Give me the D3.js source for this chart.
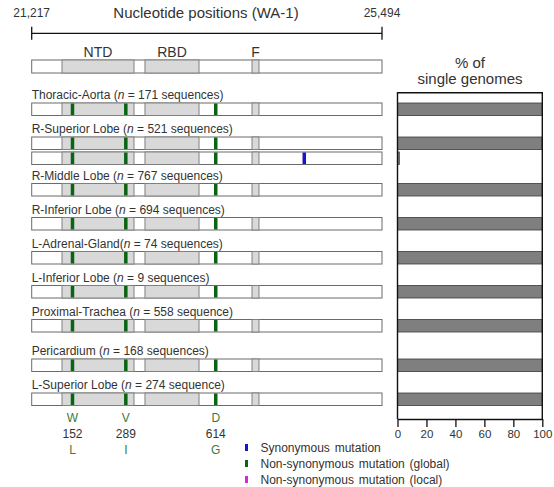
<!DOCTYPE html>
<html>
<head>
<meta charset="utf-8">
<script src="https://cdn.jsdelivr.net/npm/d3@7"></script>
<style>
  body { margin: 0; background: #fff; }
  text { font-family: "Liberation Sans", Arial, sans-serif; fill: #333; }
</style>
</head>
<body>
<svg id="chart" width="554" height="487"></svg>
<script>
// ---- data ----
const genomeStart = 21217, genomeEnd = 25494;

const domainNames = ["NTD", "RBD", "F"];
const domainStart = [21587, 22600, 23907];
const domainEnd = [22466, 23260, 23992];

const tissues = ["Thoracic-Aorta", "R-Superior Lobe", "R-Middle Lobe", "R-Inferior Lobe",
  "L-Adrenal-Gland", "L-Inferior Lobe", "Proximal-Trachea", "Pericardium", "L-Superior Lobe"];
const seqCounts = [171, 521, 767, 694, 74, 9, 558, 168, 274];
const seqNoun = ["sequences", "sequences", "sequences", "sequences", "sequences",
  "sequences", "sequence", "sequences", "sequence"];
// % of single genomes for every genome type in a tissue
const genomePct = [[100], [99.8, 0.2], [100], [100], [100], [100], [100], [100], [100]];

// non-synonymous (global) sites, drawn in every genome
const globalSites = [21715, 22366, 23464];
const globalAA = [152, 289, 614];
const globalRef = ["W", "V", "D"];
const globalAlt = ["L", "I", "G"];

// synonymous site: tissue index, genome index, position
const synTissue = [1];
const synGenome = [1];
const synSite = [24545];

const legendLabels = ["Synonymous mutation", "Non-synonymous mutation (global)", "Non-synonymous mutation (local)"];
const legendColors = ["#1515d0", "#0b6414", "#e020e0"];

const pctTicks = [0, 20, 40, 60, 80, 100];

// ---- layout ----
var svg = d3.select("#chart");
var barH = 12.5;

var x = d3.scaleLinear().domain([genomeStart, genomeEnd]).range([31.7, 382]);
var xp = d3.scaleLinear().domain([0, 100]).range([397.5, 542.3]);

// top axis
var axisY = 33.3;
svg.append("line").attr("x1", x(genomeStart)).attr("x2", x(genomeEnd))
  .attr("y1", axisY).attr("y2", axisY).attr("stroke", "#111").attr("stroke-width", 1.3);
[genomeStart, genomeEnd].forEach(function (v) {
  svg.append("line").attr("x1", x(v)).attr("x2", x(v)).attr("y1", axisY - 6.5).attr("y2", axisY + 6.5)
    .attr("stroke", "#111").attr("stroke-width", 1.3);
  svg.append("text").attr("x", x(v)).attr("y", 17).attr("text-anchor", "middle")
    .style("font-size", "12px").text(d3.format(",")(v));
});
svg.append("text").attr("x", 206).attr("y", 18).attr("text-anchor", "middle")
  .style("font-size", "15px").text("Nucleotide positions (WA-1)");

// domain labels
svg.selectAll(".dom-label").data(domainNames).enter().append("text")
  .attr("x", (d, i) => (x(domainStart[i]) + x(domainEnd[i])) / 2)
  .attr("y", 56.5).attr("text-anchor", "middle")
  .style("font-size", "14px").text(d => d);

function drawSpike(y0, h) {
  var g = svg.append("g");
  g.append("rect").attr("x", x(genomeStart)).attr("y", y0)
    .attr("width", x(genomeEnd) - x(genomeStart)).attr("height", h)
    .attr("fill", "#fff").attr("stroke", "#6b6b6b").attr("stroke-width", 1);
  domainNames.forEach(function (d, i) {
    g.append("rect").attr("x", x(domainStart[i])).attr("y", y0)
      .attr("width", x(domainEnd[i]) - x(domainStart[i])).attr("height", h)
      .attr("fill", "#d9d9d9").attr("stroke", "#808080").attr("stroke-width", 1);
  });
  return g;
}

// reference spike
drawSpike(60, 13);

// rows
var rows = [];
var rowTop = 103;
tissues.forEach(function (t, i) {
  if (t === "Pericardium") rowTop += 5.5;
  var lab = svg.append("text").attr("x", 31.7).attr("y", rowTop - 4).style("font-size", "12px")
    .attr("xml:space", "preserve");
  lab.append("tspan").text(t + (t === "L-Adrenal-Gland" ? "(" : " ("));
  lab.append("tspan").style("font-style", "italic").text("n");
  lab.append("tspan").text(" = " + seqCounts[i] + " " + seqNoun[i] + ")");
  genomePct[i].forEach(function (p, k) {
    rows.push({ tissue: i, genome: k, top: rowTop + k * 15, pct: p });
  });
  rowTop += 34 + (genomePct[i].length - 1) * 12.5;
});

rows.forEach(function (r) {
  var g = drawSpike(r.top, barH);
  globalSites.forEach(function (s) {
    g.append("rect").attr("x", x(s) - 1.75).attr("y", r.top + 0.5).attr("width", 3.5).attr("height", barH - 1)
      .attr("fill", legendColors[1]);
  });
  synSite.forEach(function (s, j) {
    if (synTissue[j] === r.tissue && synGenome[j] === r.genome) {
      g.append("rect").attr("x", x(s) - 1.75).attr("y", r.top + 0.5).attr("width", 3.5).attr("height", barH - 1)
        .attr("fill", legendColors[0]);
    }
  });
});

// amino acid labels
globalSites.forEach(function (s, i) {
  svg.append("text").attr("x", x(s)).attr("y", 422).attr("text-anchor", "middle")
    .style("font-size", "12px").style("fill", "#3c7a3c").text(globalRef[i]);
  svg.append("text").attr("x", x(s)).attr("y", 438).attr("text-anchor", "middle")
    .style("font-size", "12px").text(globalAA[i]);
  svg.append("text").attr("x", x(s)).attr("y", 454).attr("text-anchor", "middle")
    .style("font-size", "12px").style("fill", "#3c7a3c").text(globalAlt[i]);
});

// legend
legendLabels.forEach(function (l, i) {
  var ly = 447.5 + i * 16;
  svg.append("rect").attr("x", 245).attr("y", ly - 3.5).attr("width", 3).attr("height", 7)
    .attr("fill", legendColors[i]);
  svg.append("text").attr("x", 260.5).attr("y", ly + 4).style("font-size", "12px")
    .style("word-spacing", "1.5px").text(l);
});

// right panel
var pTop = 92.7, pBottom = 419;
svg.append("text").attr("x", 470).attr("y", 67.5).attr("text-anchor", "middle")
  .style("font-size", "15px").text("% of");
svg.append("text").attr("x", 470).attr("y", 84).attr("text-anchor", "middle")
  .style("font-size", "15px").text("single genomes");

// tiny shares still get a visible sliver
svg.selectAll(".pbar").data(rows).enter().append("rect")
  .attr("x", xp(0)).attr("y", d => d.top)
  .attr("width", d => Math.max(1.8, xp(d.pct) - xp(0))).attr("height", barH)
  .attr("fill", "#7f7f7f").attr("stroke", "#3a3a3a").attr("stroke-width", 0.8);

svg.append("path")
  .attr("d", "M" + xp(0) + "," + pBottom + "V" + pTop + "H" + xp(100) + "V" + pBottom)
  .attr("fill", "none").attr("stroke", "#111").attr("stroke-width", 1.4);

var ax = svg.append("g").attr("transform", "translate(0," + pBottom + ")")
  .call(d3.axisBottom(xp).tickValues(pctTicks).tickSize(8).tickSizeOuter(0));
ax.select(".domain").attr("stroke", "#111").attr("stroke-width", 1.4);
ax.selectAll(".tick line").attr("stroke", "#111").attr("stroke-width", 1.3);
ax.selectAll(".tick text").attr("y", 11).style("font-size", "11.5px")
  .style("font-family", "Liberation Sans, Arial, sans-serif").attr("fill", "#333");
</script>
</body>
</html>
